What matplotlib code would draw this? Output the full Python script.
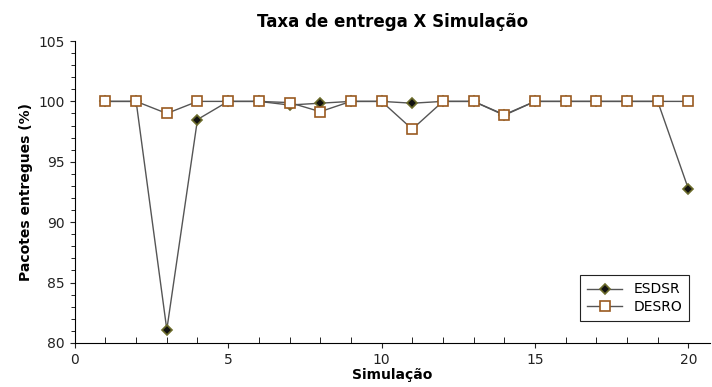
import matplotlib
matplotlib.use("Agg")
import matplotlib.pyplot as plt
from matplotlib.ticker import MultipleLocator

sim = list(range(1, 21))
esdsr = [100, 100, 81.1, 98.5, 100, 100, 99.7, 99.85, 100, 100,
         99.85, 100, 100, 98.9, 100, 100, 100, 100, 100, 92.75]
desro = [100, 100, 99.0, 100, 100, 100, 99.9, 99.15, 100, 100,
         97.7, 100, 100, 98.85, 100, 100, 100, 100, 100, 100]

fig = plt.figure(figsize=(7.12, 3.87), dpi=100)
ax = fig.add_axes([0.105, 0.114, 0.892, 0.78])

ax.plot(sim, esdsr, color="#555555", lw=1.0, marker="D", ms=5,
        mfc="#111111", mec="#6b6b2a", mew=1.2, label="ESDSR", zorder=3)
ax.plot(sim, desro, color="#555555", lw=1.0, marker="s", ms=7.5,
        mfc="white", mec="#9a5a20", mew=1.2, label="DESRO", zorder=4)

ax.set_xlim(0, 20.7)
ax.set_ylim(80, 105)
ax.xaxis.set_major_locator(MultipleLocator(5))
ax.xaxis.set_minor_locator(MultipleLocator(1))
ax.yaxis.set_major_locator(MultipleLocator(5))
ax.yaxis.set_minor_locator(MultipleLocator(1))
for s in ("top", "right"):
    ax.spines[s].set_visible(False)
ax.tick_params(labelsize=10, colors="#222222")
ax.tick_params(axis="x", which="minor", direction="in", length=4)
ax.tick_params(axis="y", which="minor", length=3)

ax.set_title("Taxa de entrega X Simulação", fontweight="bold", fontsize=12, pad=10)
ax.set_xlabel("Simulação", fontweight="bold", fontsize=10, labelpad=1)
ax.set_ylabel("Pacotes entregues (%)", fontweight="bold", fontsize=10)

leg = ax.legend(loc="lower right", bbox_to_anchor=(0.967, 0.073), fancybox=False,
                edgecolor="#222222", framealpha=1, fontsize=10,
                handlelength=2.5, labelspacing=0.25, borderpad=0.5,
                borderaxespad=0)
leg.get_frame().set_linewidth(0.8)

fig.savefig("out.png", dpi=100)
